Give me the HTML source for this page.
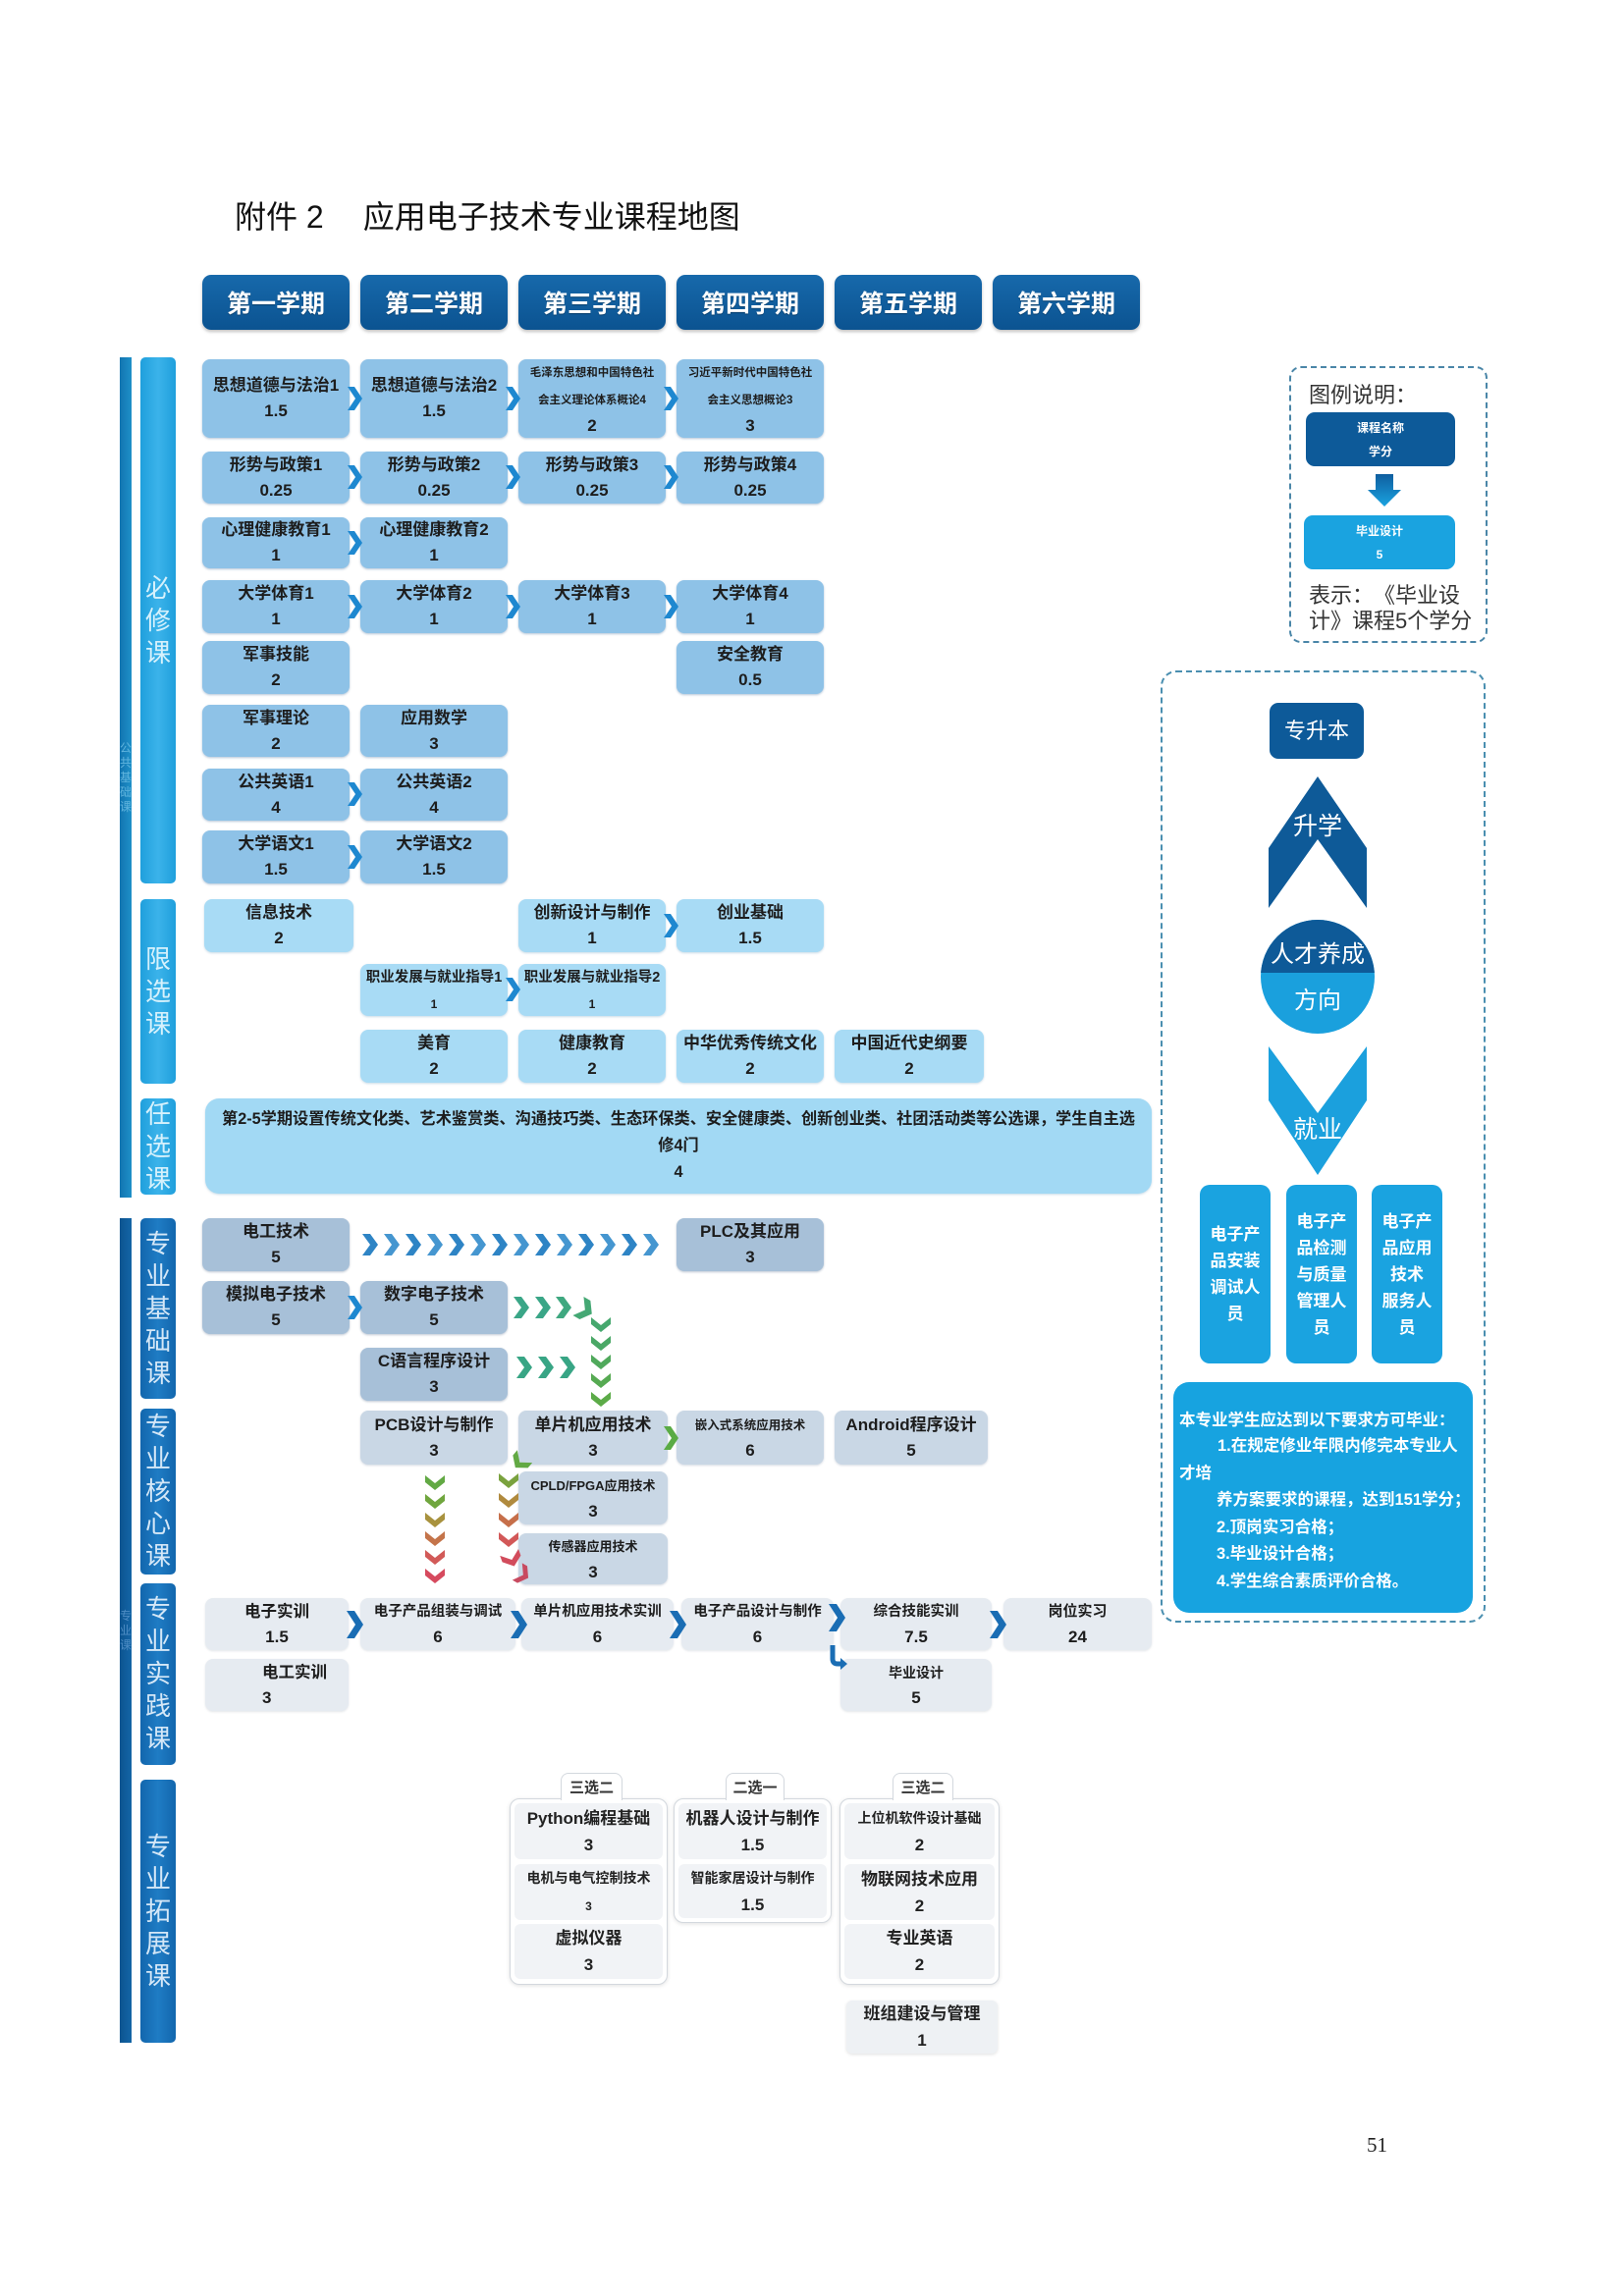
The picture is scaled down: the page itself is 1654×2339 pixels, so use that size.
<!DOCTYPE html>
<html><head><meta charset="utf-8"><title>应用电子技术专业课程地图</title>
<style>
html,body{margin:0;padding:0;background:#fff}
body{width:1654px;height:2339px;position:relative;overflow:hidden;font-family:"Liberation Sans","Noto Sans CJK SC",sans-serif}
.a{position:absolute}
.b{position:absolute;display:flex;justify-content:center;align-items:center;text-align:center;font-weight:bold;color:#1d1d1d;border-radius:8px;line-height:26px;font-size:17px;white-space:nowrap;box-sizing:border-box}
.b p{margin:0}
.req{background:#8ec2e7;box-shadow:0 1px 2px rgba(40,90,140,.35)}
.lim{background:#a8dbf5;box-shadow:0 1px 2px rgba(40,110,160,.25)}
.bas{background:#a7c0d8;box-shadow:0 1px 2px rgba(40,70,110,.3)}
.cor{background:#c9d7e5;box-shadow:0 1px 2px rgba(40,70,110,.2)}
.pra{background:#e6ebf1;box-shadow:0 1px 2px rgba(60,80,100,.15)}
.sem{position:absolute;top:280px;width:150px;height:56px;border-radius:9px;background:linear-gradient(#1769ab,#0b5391);color:#fff;font-weight:bold;font-size:25px;display:flex;align-items:center;justify-content:center;box-shadow:0 2px 3px rgba(0,0,0,.25);text-shadow:0 1px 1px rgba(0,0,0,.3)}
.vb{position:absolute;left:143px;width:36px;border-radius:5px;display:flex;align-items:center;justify-content:center;text-align:center;font-size:26px;line-height:33px}
.lt{background:linear-gradient(90deg,#1f9fdc,#3bb3ea,#1f9fdc);color:#d6f1fc}
.dk{background:linear-gradient(90deg,#1266ad,#1f7cc4,#1266ad);color:#d4e7f7}
.ob{position:absolute;left:122px;width:12px;display:flex;align-items:center;justify-content:center;text-align:center;font-size:12px;line-height:15px}
.s{font-size:11.5px;line-height:26px}
.m{font-size:14.5px}
.n{font-size:12px}
.grp{position:absolute;border:1.5px solid #d3d8de;border-radius:10px;background:#fff;box-shadow:0 1px 4px rgba(0,0,0,.12);box-sizing:border-box}
.tab{position:absolute;border:1.5px solid #d3d8de;border-bottom:none;border-radius:8px 8px 0 0;background:#fff;height:28px;box-sizing:border-box;font-size:15px;font-weight:bold;color:#333;display:flex;align-items:center;justify-content:center;z-index:2}
.it{position:absolute;background:#f1f3f6;border-radius:6px;display:flex;align-items:center;justify-content:center;text-align:center;font-weight:bold;color:#222;font-size:17px;line-height:27px;white-space:nowrap}
.it p{margin:0}
.job{position:absolute;top:1207px;width:72px;height:182px;background:#1aa3e0;border-radius:10px;color:#fff;font-weight:bold;font-size:17px;line-height:27px;display:flex;align-items:center;justify-content:center;text-align:center}
.rl{position:absolute;left:0;font-size:16.5px;line-height:27px;color:#fff;font-weight:bold;white-space:nowrap}
</style></head>
<body>

<div class="a" style="left:239px;top:201px;font-size:32px;color:#111;white-space:nowrap;line-height:40px">附件 2<span style="display:inline-block;width:40px"></span>应用电子技术专业课程地图</div>

<div class="sem" style="left:206px">第一学期</div>
<div class="sem" style="left:367px">第二学期</div>
<div class="sem" style="left:528px">第三学期</div>
<div class="sem" style="left:689px">第四学期</div>
<div class="sem" style="left:850px">第五学期</div>
<div class="sem" style="left:1011px">第六学期</div>

<!-- outer bars -->
<div class="ob" style="top:364px;height:856px;background:linear-gradient(90deg,#1274b0,#1f90c8);color:#5fb4de">公<br>共<br>基<br>础<br>课</div>
<div class="ob" style="top:1241px;height:840px;background:linear-gradient(90deg,#0c5490,#1465a6);color:#4d8cc4">专<br>业<br>课</div>

<!-- inner bars -->
<div class="vb lt" style="top:364px;height:536px">必<br>修<br>课</div>
<div class="vb lt" style="top:916px;height:188px">限<br>选<br>课</div>
<div class="vb lt" style="top:1119px;height:98px">任<br>选<br>课</div>
<div class="vb dk" style="top:1241px;height:184px">专<br>业<br>基<br>础<br>课</div>
<div class="vb dk" style="top:1435px;height:169px">专<br>业<br>核<br>心<br>课</div>
<div class="vb dk" style="top:1613px;height:185px">专<br>业<br>实<br>践<br>课</div>
<div class="vb dk" style="top:1813px;height:268px">专<br>业<br>拓<br>展<br>课</div>

<!-- required -->
<div class="b req" style="left:206px;top:366px;width:150px;height:80px"><p>思想道德与法治1<br>1.5</p></div>
<div class="b req" style="left:367px;top:366px;width:150px;height:80px"><p>思想道德与法治2<br>1.5</p></div>
<div class="b req" style="left:528px;top:366px;width:150px;height:80px"><p><span class="s">毛泽东思想和中国特色社</span><br><span class="s">会主义理论体系概论4</span><br>2</p></div>
<div class="b req" style="left:689px;top:366px;width:150px;height:80px"><p><span class="s">习近平新时代中国特色社</span><br><span class="s">会主义思想概论3</span><br>3</p></div>

<div class="b req" style="left:206px;top:460px;width:150px;height:53px"><p>形势与政策1<br>0.25</p></div>
<div class="b req" style="left:367px;top:460px;width:150px;height:53px"><p>形势与政策2<br>0.25</p></div>
<div class="b req" style="left:528px;top:460px;width:150px;height:53px"><p>形势与政策3<br>0.25</p></div>
<div class="b req" style="left:689px;top:460px;width:150px;height:53px"><p>形势与政策4<br>0.25</p></div>

<div class="b req" style="left:206px;top:527px;width:150px;height:52px"><p>心理健康教育1<br>1</p></div>
<div class="b req" style="left:367px;top:527px;width:150px;height:52px"><p>心理健康教育2<br>1</p></div>

<div class="b req" style="left:206px;top:591px;width:150px;height:54px"><p>大学体育1<br>1</p></div>
<div class="b req" style="left:367px;top:591px;width:150px;height:54px"><p>大学体育2<br>1</p></div>
<div class="b req" style="left:528px;top:591px;width:150px;height:54px"><p>大学体育3<br>1</p></div>
<div class="b req" style="left:689px;top:591px;width:150px;height:54px"><p>大学体育4<br>1</p></div>

<div class="b req" style="left:206px;top:653px;width:150px;height:54px"><p>军事技能<br>2</p></div>
<div class="b req" style="left:689px;top:653px;width:150px;height:54px"><p>安全教育<br>0.5</p></div>

<div class="b req" style="left:206px;top:718px;width:150px;height:53px"><p>军事理论<br>2</p></div>
<div class="b req" style="left:367px;top:718px;width:150px;height:53px"><p>应用数学<br>3</p></div>

<div class="b req" style="left:206px;top:783px;width:150px;height:53px"><p>公共英语1<br>4</p></div>
<div class="b req" style="left:367px;top:783px;width:150px;height:53px"><p>公共英语2<br>4</p></div>

<div class="b req" style="left:206px;top:846px;width:150px;height:54px"><p>大学语文1<br>1.5</p></div>
<div class="b req" style="left:367px;top:846px;width:150px;height:54px"><p>大学语文2<br>1.5</p></div>

<!-- limited -->
<div class="b lim" style="left:208px;top:916px;width:152px;height:54px"><p>信息技术<br>2</p></div>
<div class="b lim" style="left:528px;top:916px;width:150px;height:54px"><p>创新设计与制作<br>1</p></div>
<div class="b lim" style="left:689px;top:916px;width:150px;height:54px"><p>创业基础<br>1.5</p></div>

<div class="b lim" style="left:367px;top:982px;width:150px;height:53px"><p><span class="m">职业发展与就业指导1</span><br><span class="n">1</span></p></div>
<div class="b lim" style="left:528px;top:982px;width:150px;height:53px"><p><span class="m">职业发展与就业指导2</span><br><span class="n">1</span></p></div>

<div class="b lim" style="left:367px;top:1049px;width:150px;height:54px"><p>美育<br>2</p></div>
<div class="b lim" style="left:528px;top:1049px;width:150px;height:54px"><p>健康教育<br>2</p></div>
<div class="b lim" style="left:689px;top:1049px;width:150px;height:54px"><p>中华优秀传统文化<br>2</p></div>
<div class="b lim" style="left:850px;top:1049px;width:152px;height:54px"><p>中国近代史纲要<br>2</p></div>

<!-- optional -->
<div class="b" style="left:209px;top:1119px;width:964px;height:97px;background:#a2d9f4;border-radius:14px;box-shadow:0 1px 2px rgba(40,110,160,.25);font-size:16.2px;line-height:27px"><p>第2-5学期设置传统文化类、艺术鉴赏类、沟通技巧类、生态环保类、安全健康类、创新创业类、社团活动类等公选课，学生自主选<br>修4门<br>4</p></div>

<!-- basics -->
<div class="b bas" style="left:206px;top:1241px;width:150px;height:54px"><p>电工技术<br>5</p></div>
<div class="b bas" style="left:689px;top:1241px;width:150px;height:54px"><p>PLC及其应用<br>3</p></div>
<div class="b bas" style="left:206px;top:1305px;width:150px;height:54px"><p>模拟电子技术<br>5</p></div>
<div class="b bas" style="left:367px;top:1305px;width:150px;height:54px"><p>数字电子技术<br>5</p></div>
<div class="b bas" style="left:367px;top:1373px;width:150px;height:54px"><p>C语言程序设计<br>3</p></div>

<!-- core -->
<div class="b cor" style="left:367px;top:1437px;width:150px;height:55px"><p>PCB设计与制作<br>3</p></div>
<div class="b cor" style="left:528px;top:1437px;width:152px;height:55px"><p>单片机应用技术<br>3</p></div>
<div class="b cor" style="left:689px;top:1437px;width:150px;height:55px"><p><span style="font-size:12.5px">嵌入式系统应用技术</span><br>6</p></div>
<div class="b cor" style="left:850px;top:1437px;width:156px;height:55px"><p>Android程序设计<br>5</p></div>
<div class="b cor" style="left:528px;top:1499px;width:152px;height:54px"><p><span style="font-size:13px">CPLD/FPGA应用技术</span><br>3</p></div>
<div class="b cor" style="left:528px;top:1562px;width:152px;height:52px"><p><span style="font-size:13px">传感器应用技术</span><br>3</p></div>

<!-- practice -->
<div class="b pra" style="left:209px;top:1628px;width:146px;height:53px"><p><span style="font-size:16.5px">电子实训</span><br>1.5</p></div>
<div class="b pra" style="left:367px;top:1628px;width:158px;height:53px"><p><span class="m">电子产品组装与调试</span><br>6</p></div>
<div class="b pra" style="left:531px;top:1628px;width:155px;height:53px"><p><span class="m">单片机应用技术实训</span><br>6</p></div>
<div class="b pra" style="left:694px;top:1628px;width:155px;height:53px"><p><span class="m">电子产品设计与制作</span><br>6</p></div>
<div class="b pra" style="left:856px;top:1628px;width:154px;height:53px"><p><span class="m">综合技能实训</span><br>7.5</p></div>
<div class="b pra" style="left:1022px;top:1628px;width:151px;height:53px"><p><span style="font-size:15px">岗位实习</span><br>24</p></div>
<div class="b pra" style="left:209px;top:1690px;width:146px;height:53px;justify-content:flex-start;padding-left:58px"><p style="text-align:left"><span style="font-size:16.5px">电工实训</span><br>3</p></div>
<div class="b pra" style="left:856px;top:1690px;width:154px;height:53px"><p><span style="font-size:14px">毕业设计</span><br>5</p></div>

<!-- expansion -->
<div class="tab" style="left:571px;top:1806px;width:63px">三选二</div>
<div class="grp" style="left:519px;top:1832px;width:161px;height:190px"></div>
<div class="it" style="left:524px;top:1837px;width:151px;height:57px"><p>Python编程基础<br>3</p></div>
<div class="it" style="left:524px;top:1899px;width:151px;height:57px"><p><span style="font-size:14px">电机与电气控制技术</span><br><span class="n">3</span></p></div>
<div class="it" style="left:524px;top:1960px;width:151px;height:56px"><p>虚拟仪器<br>3</p></div>

<div class="tab" style="left:739px;top:1806px;width:60px">二选一</div>
<div class="grp" style="left:686px;top:1832px;width:161px;height:127px"></div>
<div class="it" style="left:691px;top:1837px;width:151px;height:57px"><p>机器人设计与制作<br>1.5</p></div>
<div class="it" style="left:691px;top:1899px;width:151px;height:55px"><p><span style="font-size:14px">智能家居设计与制作</span><br>1.5</p></div>

<div class="tab" style="left:909px;top:1806px;width:62px">三选二</div>
<div class="grp" style="left:855px;top:1832px;width:163px;height:190px"></div>
<div class="it" style="left:860px;top:1837px;width:153px;height:57px"><p><span style="font-size:14px">上位机软件设计基础</span><br>2</p></div>
<div class="it" style="left:860px;top:1899px;width:153px;height:57px"><p>物联网技术应用<br>2</p></div>
<div class="it" style="left:860px;top:1960px;width:153px;height:56px"><p>专业英语<br>2</p></div>

<div class="it" style="left:862px;top:2038px;width:154px;height:54px;background:#eef1f4;box-shadow:0 1px 3px rgba(0,0,0,.12)"><p>班组建设与管理<br>1</p></div>

<!-- legend -->
<div class="a" style="left:1313px;top:373px;width:202px;height:282px;border:2.5px dashed #4a86a8;border-radius:12px;box-sizing:border-box"></div>
<div class="a" style="left:1333px;top:389px;font-size:22px;line-height:28px;color:#333;white-space:nowrap">图例说明：</div>
<div class="b" style="left:1330px;top:420px;width:152px;height:55px;background:#0d5a99;color:#fff;font-size:12px;line-height:24px;border-radius:9px"><p>课程名称<br>学分</p></div>
<div class="b" style="left:1328px;top:525px;width:154px;height:55px;background:#1aa3e0;color:#fff;font-size:12px;line-height:24px;border-radius:9px"><p>毕业设计<br>5</p></div>
<div class="a" style="left:1333px;top:594px;font-size:22px;line-height:26px;color:#333;white-space:nowrap">表示：&#12288;《毕业设<br>计》课程5个学分</div>

<!-- right direction panel -->
<div class="a" style="left:1182px;top:683px;width:331px;height:970px;border:2.5px dashed #4a8fb0;border-radius:16px;box-sizing:border-box"></div>
<div class="b" style="left:1293px;top:716px;width:96px;height:57px;background:#0d5a99;color:#fff;font-size:22px;font-weight:normal;border-radius:9px">专升本</div>

<div class="job" style="left:1222px">电子产<br>品安装<br>调试人<br>员</div>
<div class="job" style="left:1310px">电子产<br>品检测<br>与质量<br>管理人<br>员</div>
<div class="job" style="left:1397px">电子产<br>品应用<br>技术<br>服务人<br>员</div>

<div class="a" style="left:1195px;top:1408px;width:305px;height:235px;background:#17a3e0;border-radius:16px">
<div class="rl" style="left:6px;top:26px">本专业学生应达到以下要求方可毕业：</div>
<div class="rl" style="left:45px;top:52px">1.在规定修业年限内修完本专业人</div>
<div class="rl" style="left:6px;top:80px">才培</div>
<div class="rl" style="left:44px;top:107px">养方案要求的课程，达到151学分；</div>
<div class="rl" style="left:44px;top:135px">2.顶岗实习合格；</div>
<div class="rl" style="left:44px;top:162px">3.毕业设计合格；</div>
<div class="rl" style="left:44px;top:190px">4.学生综合素质评价合格。</div>
</div>

<div class="a" style="left:1392px;top:2173px;font-family:'Liberation Serif',serif;font-size:21px;color:#222">51</div>

<svg class="a" style="left:0;top:0" width="1654" height="2339" viewBox="0 0 1654 2339">
<defs>
<polygon id="R" points="-7,-12 0,-12 8,0 0,12 -7,12 1,0"/>
<polygon id="Rs" points="-6,-10 0,-10 7,0 0,10 -6,10 1,0"/>
<polygon id="Rm" points="-7,-11 1,-11 9,0 1,11 -7,11 1,0"/>
<polygon id="RL" points="-8,-14 0,-14 9,0 0,14 -8,14 1,0"/>
<polygon id="D" points="10,-7 10,0 0,8 -10,0 -10,-7 0,1"/>
<linearGradient id="ga" x1="0" y1="0" x2="0" y2="1"><stop offset="0" stop-color="#0f5e9f"/><stop offset="1" stop-color="#1aa3e0"/></linearGradient>
<clipPath id="top"><rect x="1270" y="920" width="150" height="71"/></clipPath>
</defs>

<!-- required chevrons -->
<g fill="#1e88d0">
<use href="#R" x="361" y="406"/><use href="#R" x="522" y="406"/><use href="#R" x="683" y="406"/>
<use href="#R" x="361" y="486"/><use href="#R" x="522" y="486"/><use href="#R" x="683" y="486"/>
<use href="#R" x="361" y="553"/>
<use href="#R" x="361" y="618"/><use href="#R" x="522" y="618"/><use href="#R" x="683" y="618"/>
<use href="#R" x="361" y="809"/><use href="#R" x="361" y="873"/>
<use href="#R" x="683" y="943"/><use href="#R" x="522" y="1008"/>
<use href="#R" x="361" y="1332"/>
</g>
<use href="#R" x="683" y="1465" fill="#5aab45"/>

<!-- series 电工技术 -> PLC -->
<g>
<use href="#Rm" x="376" y="1268" fill="#2e84c5"/><use href="#Rm" x="398" y="1268" fill="#4596d0"/>
<use href="#Rm" x="420" y="1268" fill="#2e84c5"/><use href="#Rm" x="442" y="1268" fill="#4596d0"/>
<use href="#Rm" x="464" y="1268" fill="#2e84c5"/><use href="#Rm" x="486" y="1268" fill="#4596d0"/>
<use href="#Rm" x="508" y="1268" fill="#2e84c5"/><use href="#Rm" x="530" y="1268" fill="#4596d0"/>
<use href="#Rm" x="552" y="1268" fill="#2e84c5"/><use href="#Rm" x="574" y="1268" fill="#4596d0"/>
<use href="#Rm" x="596" y="1268" fill="#2e84c5"/><use href="#Rm" x="618" y="1268" fill="#4596d0"/>
<use href="#Rm" x="640" y="1268" fill="#2e84c5"/><use href="#Rm" x="662" y="1268" fill="#4596d0"/>
</g>

<!-- green from 数字电子技术 -->
<use href="#Rm" x="530" y="1332" fill="#3aa687"/>
<use href="#Rm" x="552" y="1332" fill="#3aa687"/>
<use href="#Rm" x="573" y="1332" fill="#3fa880"/>
<use href="#Rm" transform="translate(595,1334) rotate(30)" fill="#45a874"/>
<use href="#D" x="612" y="1349" fill="#46a86e"/>
<use href="#D" x="612" y="1368" fill="#4aa866"/>
<use href="#D" x="612" y="1387" fill="#50a95c"/>
<use href="#D" x="612" y="1406" fill="#56aa52"/>
<use href="#D" x="612" y="1425" fill="#5cab48"/>
<!-- green from C语言 -->
<use href="#Rm" x="533" y="1393" fill="#38a585"/>
<use href="#Rm" x="555" y="1393" fill="#38a585"/>
<use href="#Rm" x="577" y="1393" fill="#38a585"/>

<!-- PCB column -->
<use href="#D" x="443" y="1510" fill="#62a944"/>
<use href="#D" x="443" y="1529" fill="#70a63e"/>
<use href="#D" x="443" y="1548" fill="#a8923e"/>
<use href="#D" x="443" y="1567" fill="#c4744a"/>
<use href="#D" x="443" y="1586" fill="#d25a58"/>
<use href="#D" x="443" y="1605" fill="#d64a5e"/>

<!-- 单片机 column -->
<use href="#D" transform="translate(530,1489) rotate(40)" fill="#62a944"/>
<use href="#D" x="518" y="1508" fill="#7aa23e"/>
<use href="#D" x="518" y="1528" fill="#b08a3e"/>
<use href="#D" x="518" y="1548" fill="#c66f4a"/>
<use href="#D" x="518" y="1568" fill="#d25858"/>
<use href="#D" transform="translate(521,1588) rotate(-20)" fill="#d24c5c"/>
<use href="#Rs" transform="translate(532,1604) rotate(30)" fill="#c84a60"/>

<!-- practice chevrons -->
<g fill="#1a6db4">
<use href="#RL" x="361" y="1655"/><use href="#RL" x="528" y="1655"/>
<use href="#RL" x="690" y="1655"/><use href="#RL" x="852" y="1648"/>
<use href="#RL" x="1016" y="1655"/>
</g>
<path d="M848,1676 L848,1690 Q848,1695 853,1695 L858,1695" fill="none" stroke="#1a6db4" stroke-width="5"/>
<polygon points="856,1689 863,1695 856,1701" fill="#1a6db4"/>

<!-- legend arrow -->
<polygon points="1401,483 1419,483 1419,499 1427,499 1410,516 1393,499 1401,499" fill="url(#ga)"/>

<!-- 升学 chevron -->
<polygon points="1342,791 1392,864 1392,925 1342,855 1292,925 1292,864" fill="#0e5a98"/>
<text x="1342" y="850" text-anchor="middle" font-size="25" fill="#fff" font-family="Liberation Sans, Noto Sans CJK SC, sans-serif">升学</text>

<!-- circle -->
<circle cx="1342" cy="995" r="58" fill="#1aa0dd"/>
<circle cx="1342" cy="995" r="58" fill="#0e5a98" clip-path="url(#top)"/>
<text x="1342" y="980" text-anchor="middle" font-size="24" fill="#fff" font-family="Liberation Sans, Noto Sans CJK SC, sans-serif">人才养成</text>
<text x="1342" y="1027" text-anchor="middle" font-size="24" fill="#fff" font-family="Liberation Sans, Noto Sans CJK SC, sans-serif">方向</text>

<!-- 就业 chevron -->
<polygon points="1292,1066 1342,1134 1392,1066 1392,1121 1342,1197 1292,1121" fill="#1ba0dd"/>
<text x="1342" y="1159" text-anchor="middle" font-size="25" fill="#fff" font-family="Liberation Sans, Noto Sans CJK SC, sans-serif">就业</text>
</svg>

</body></html>
